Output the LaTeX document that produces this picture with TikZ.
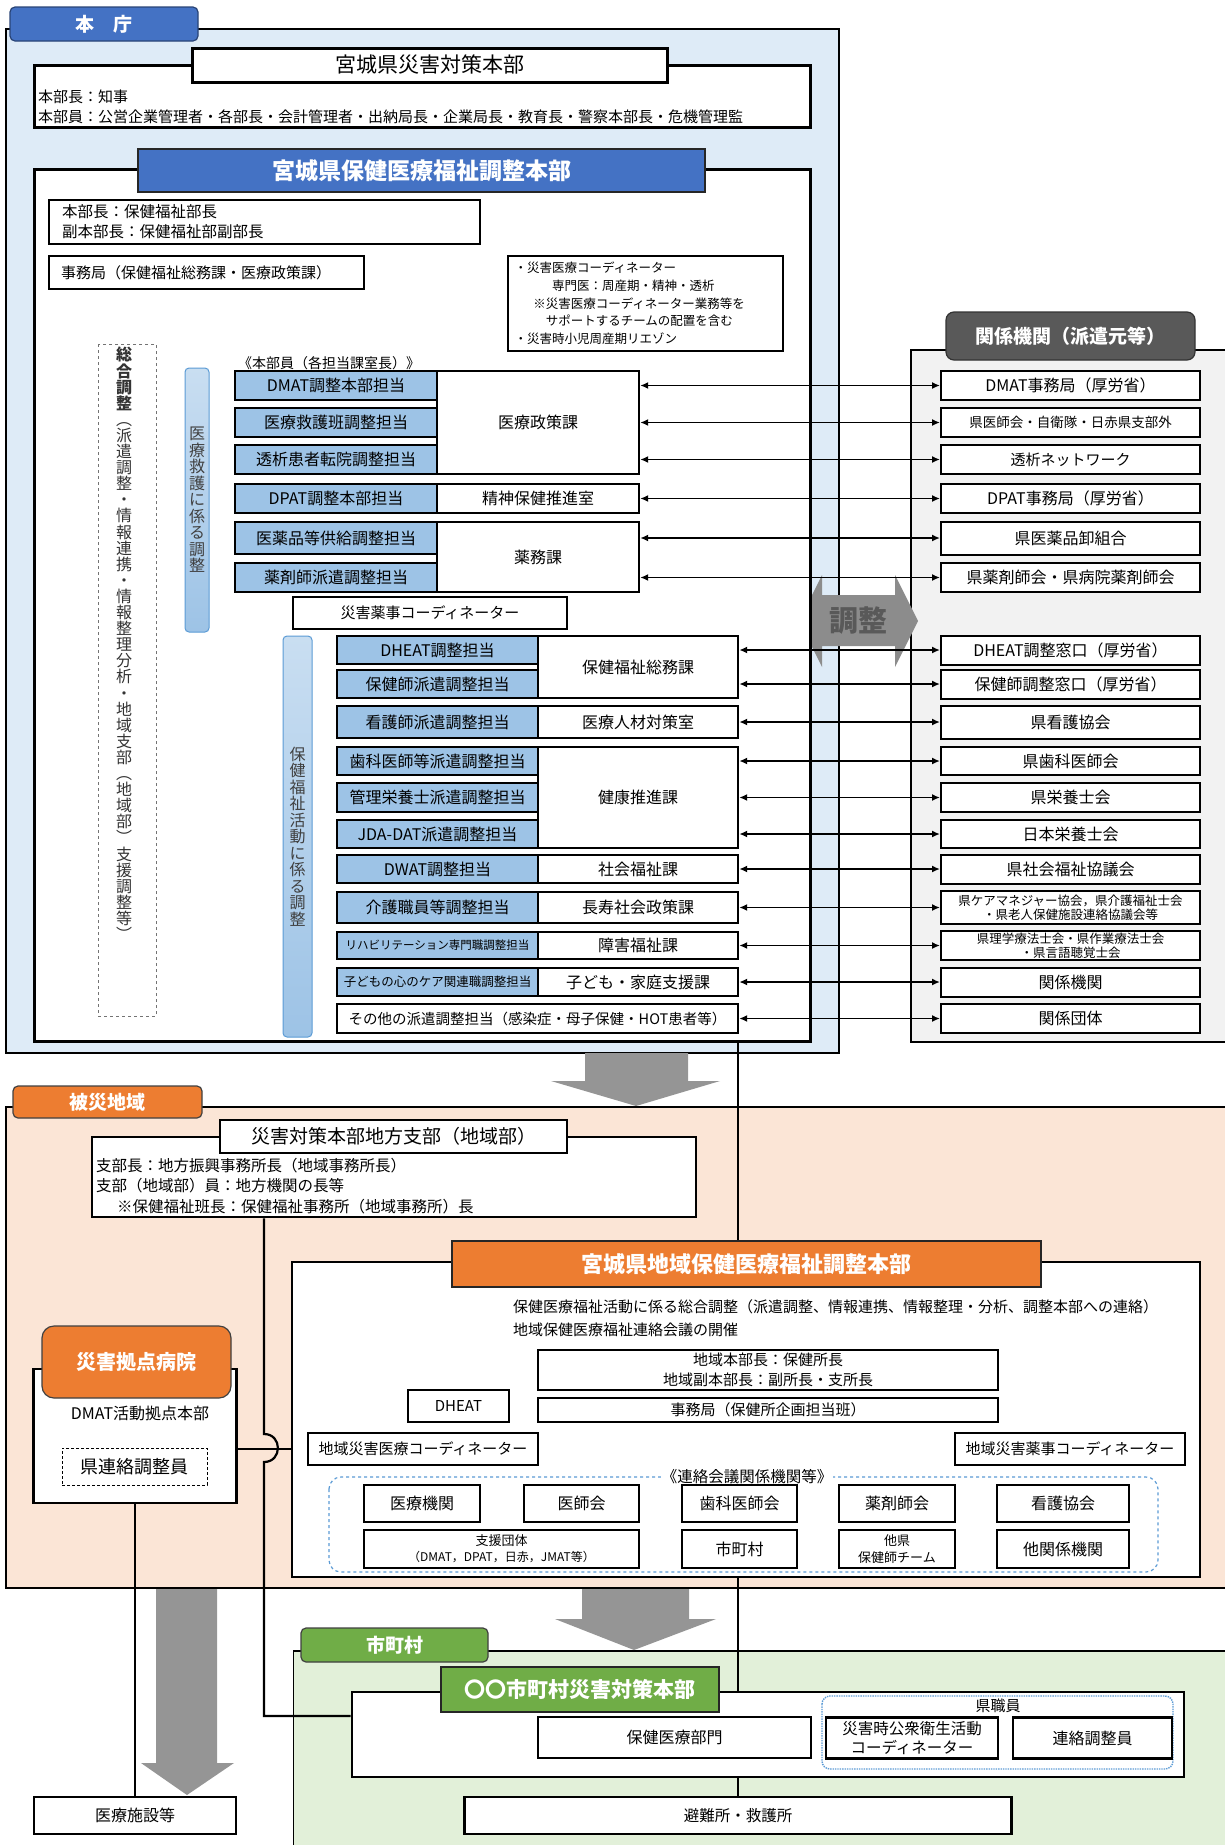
\documentclass[tikz,border=0pt]{standalone}
\usepackage{fontspec}
\setmainfont{Noto Sans CJK JP}
\usetikzlibrary{arrows.meta}

\definecolor{honblue}{HTML}{DEEBF7}
\definecolor{tabblue}{HTML}{4472C4}
\definecolor{tanblue}{HTML}{9DC3E6}
\definecolor{barline}{HTML}{5B9BD5}
\definecolor{kangray}{HTML}{F2F2F2}
\definecolor{headgray}{HTML}{595959}
\definecolor{bigarrow}{HTML}{959595}
\definecolor{hisaibg}{HTML}{FBE5D6}
\definecolor{taborange}{HTML}{ED7D31}
\definecolor{shibg}{HTML}{E2F0D9}
\definecolor{tabgreen}{HTML}{70AD47}

\pgfdeclarelayer{back}
\pgfdeclarelayer{mid}
\pgfsetlayers{back,mid,main}

\newcommand\fsz[2]{\fontsize{#1}{#2}\selectfont\lineskiplimit=-100pt\relax}

\begin{document}
\begin{tikzpicture}[x=1pt, y=-1pt,
  wire/.style={line width=2.2pt},
  rel/.style={{Latex[length=8pt,width=7pt]}-{Latex[length=8pt,width=7pt]}, line width=1.8pt},
  box/.style={draw, line width=2.2pt, fill=white, inner sep=0pt, align=center, font=\fsz{16}{18}},
  tanto/.style={box, fill=tanblue, line width=1.8pt, minimum width=202pt},
  tantob/.style={tanto, minimum width=201pt},
  ka/.style={box, line width=2.4pt, minimum width=202pt},
  kab/.style={ka, minimum width=200pt},
  kikan/.style={box, line width=2pt, minimum width=259pt, minimum height=29pt},
  gbox/.style={box, minimum height=37pt},
  txt/.style={anchor=west, inner sep=0pt, font=\fsz{15}{18}},
  tabnode/.style={draw=black!75, line width=1.2pt, rounded corners=5pt, inner sep=0pt, text=white, font=\bfseries\fsz{19}{19}},
  ttlbox/.style={draw=black!85, line width=2.5pt, inner sep=0pt, text=white, font=\bfseries\fsz{22}{22}},
  tatebar/.style={draw=barline, line width=1pt, rounded corners=4pt, top color=tanblue!55!white, bottom color=tanblue, inner sep=0pt, align=center, text=black!75, font=\fsz{16}{16.5}}
]
\useasboundingbox (0,0) rectangle (1225,1845);

\begin{pgfonlayer}{back}
  \draw[line width=1.8pt, fill=honblue] (6,29) rectangle (839,1053);
  \draw[line width=2.5pt, fill=kangray] (911,350) rectangle (1240,1042);
  \draw[line width=2pt, fill=hisaibg] (6,1107) rectangle (1240,1588);
  \fill[shibg] (293,1651) rectangle (1240,1860);
  \draw[line width=2.2pt] (293,1651) -- (1240,1651);
  \draw[line width=1pt] (293,1651) -- (293,1860);
  \fill[bigarrow] (585,1053) -- (688,1053) -- (688,1081) -- (720,1081) -- (636,1106) -- (551,1081) -- (585,1081) -- cycle;
  \fill[bigarrow] (582,1589) -- (689,1589) -- (689,1619) -- (716,1619) -- (634,1650) -- (555,1619) -- (582,1619) -- cycle;
  \fill[bigarrow] (156,1589) -- (217,1589) -- (217,1763) -- (234,1763) -- (187,1795) -- (141,1763) -- (156,1763) -- cycle;
  \fill[black!45] (799,621) -- (822,575) -- (822,595) -- (895,595) -- (895,575) -- (918,621) -- (895,667) -- (895,646) -- (822,646) -- (822,667) -- cycle;
  \node[font=\bfseries\fsz{29}{29}, text=headgray] (chosei) at (858.5,621) {調整};
\end{pgfonlayer}

% honcho
\node[tabnode, fill=tabblue, draw=tabblue!60!black, minimum width=188pt, minimum height=34pt] (honcho) at (104,24) {本　庁};
\node[box, line width=3pt, minimum width=776pt, minimum height=62pt] (honbu) at (422,96) {};
\node[box, line width=3pt, minimum width=475pt, minimum height=34pt, font=\fsz{21}{21}] (honbut) at (429.5,65) {宮城県災害対策本部};
\node[txt] (honbu1) at (38,97) {本部長：知事};
\node[txt] (honbu2) at (38,117) {本部員：公営企業管理者・各部長・会計管理者・出納局長・企業局長・教育長・警察本部長・危機管理監};

\node[box, line width=3pt, minimum width=776pt, minimum height=872pt] (bigbox) at (422,605) {};
\node[ttlbox, fill=tabblue, minimum width=567pt, minimum height=43pt, font=\bfseries\fsz{23}{23}] (bigboxt) at (421.5,170.5) {宮城県保健医療福祉調整本部};
\node[box, line width=2pt, minimum width=431pt, minimum height=44pt] (buchou) at (264.5,222) {};
\node[txt, font=\fsz{15.5}{18}] (buchou1) at (62,212) {本部長：保健福祉部長};
\node[txt, font=\fsz{15.5}{18}] (buchou2) at (62,232) {副本部長：保健福祉部副部長};
\node[box, line width=2pt, minimum width=315pt, minimum height=33pt, text width=291pt, align=left, font=\fsz{15}{15}] (jimu) at (206.5,272.5) {事務局（保健福祉総務課・医療政策課）};
\node[box, line width=2pt, minimum width=275pt, minimum height=95pt, text width=262pt, align=left, font=\fsz{12.5}{17.7}] (coord) at (645.5,303.5) {・災害医療コーディネーター\\\hspace*{3em}専門医：周産期・精神・透析\\\hspace*{1.5em}※災害医療コーディネーター業務等を\\\hspace*{2.5em}サポートするチームの配置を含む\\・災害時小児周産期リエゾン};

\draw[dashed, black!55, line width=1pt] (98,344) rectangle (156,1016);
\node[anchor=north, inner sep=0pt, align=center, text=black!80, font=\fsz{16}{16.1}] (sogo) at (124,347) {\textbf{総}\\\textbf{合}\\\textbf{調}\\\textbf{整}\\︵\\派\\遣\\調\\整\\・\\情\\報\\連\\携\\・\\情\\報\\整\\理\\分\\析\\・\\地\\域\\支\\部\\︵\\地\\域\\部\\︶\\支\\援\\調\\整\\等\\︶};

\node[txt, font=\fsz{14}{14}] (buin) at (238,363) {《本部員（各担当課室長）》};

% iryo kyugo
\node[ka, minimum height=103pt] (iryoseisaku) at (538,422.5) {医療政策課};
\node[ka, minimum height=29pt] (seishin) at (538,498.5) {精神保健推進室};
\node[ka, minimum height=70pt] (yakumu) at (538,557) {薬務課};
\node[tanto, minimum height=29pt] (dmat) at (336,385.5) {DMAT調整本部担当};
\node[tanto, minimum height=29pt] (kyugo) at (336,422.5) {医療救護班調整担当};
\node[tanto, minimum height=29pt] (toseki) at (336,459.5) {透析患者転院調整担当};
\node[tanto, minimum height=29pt] (dpat) at (336,498.5) {DPAT調整本部担当};
\node[tanto, minimum height=32pt] (iyaku) at (336,538) {医薬品等供給調整担当};
\node[tanto, minimum height=29pt] (yakuzai) at (336,577.5) {薬剤師派遣調整担当};
\node[box, line width=2pt, minimum width=274pt, minimum height=32pt, font=\fsz{15}{15}] (yakujico) at (430,613) {災害薬事コーディネーター};
\node[tatebar, minimum width=24pt, minimum height=264pt] (medbar) at (197,500) {医\\療\\救\\護\\に\\係\\る\\調\\整};

% hoken fukushi
\node[kab, minimum height=62pt] (somu) at (638,667) {保健福祉総務課};
\node[kab, minimum height=32pt] (jinzai) at (638,722) {医療人材対策室};
\node[kab, minimum height=101pt] (kenko) at (638,797.5) {健康推進課};
\node[kab, minimum height=28pt] (shakai) at (638,869) {社会福祉課};
\node[kab, minimum height=31pt] (choju) at (638,907.5) {長寿社会政策課};
\node[kab, minimum height=27pt] (shogai) at (638,945.5) {障害福祉課};
\node[kab, minimum height=28pt] (kodomoka) at (638,982) {子ども・家庭支援課};
\node[tantob, minimum height=28pt] (dheat) at (437.5,650) {DHEAT調整担当};
\node[tantob, minimum height=28pt] (hokenshi) at (437.5,684) {保健師派遣調整担当};
\node[tantob, minimum height=32pt] (kangoshi) at (437.5,722) {看護師派遣調整担当};
\node[tantob, minimum height=28pt] (shika) at (437.5,761) {歯科医師等派遣調整担当};
\node[tantob, minimum height=29pt] (eiyo) at (437.5,797.5) {管理栄養士派遣調整担当};
\node[tantob, minimum height=28pt] (jda) at (437.5,834) {JDA-DAT派遣調整担当};
\node[tantob, minimum height=28pt] (dwat) at (437.5,869) {DWAT調整担当};
\node[tantob, minimum height=31pt] (kaigo) at (437.5,907.5) {介護職員等調整担当};
\node[tantob, minimum height=27pt, font=\fsz{11.5}{11.5}] (reha) at (437.5,945.5) {リハビリテーション専門職調整担当};
\node[tantob, minimum height=28pt, font=\fsz{12.5}{12.5}] (kodomo) at (437.5,982) {子どもの心のケア関連職調整担当};
\node[ka, minimum width=401pt, minimum height=29pt, font=\fsz{14.5}{14.5}] (sonota) at (537.5,1018.5) {その他の派遣調整担当（感染症・母子保健・HOT患者等）};
\node[tatebar, minimum width=29pt, minimum height=401pt] (hokbar) at (297.5,836.5) {保\\健\\福\\祉\\活\\動\\に\\係\\る\\調\\整};

% kankei kikan
\node[tabnode, fill=headgray, draw=black!80, rounded corners=8pt, minimum width=249pt, minimum height=48pt] (kanhead) at (1070.5,336) {関係機関（派遣元等）};
\node[kikan] (r1) at (1070.5,385.5) {DMAT事務局（厚労省）};
\node[kikan, font=\fsz{13.5}{13.5}] (r2) at (1070.5,422.5) {県医師会・自衛隊・日赤県支部外};
\node[kikan, font=\fsz{15}{15}] (r3) at (1070.5,459.5) {透析ネットワーク};
\node[kikan] (r4) at (1070.5,498.5) {DPAT事務局（厚労省）};
\node[kikan, minimum height=33pt] (r5) at (1070.5,538) {県医薬品卸組合};
\node[kikan] (r6) at (1070.5,577.5) {県薬剤師会・県病院薬剤師会};
\node[kikan] (r7) at (1070.5,650) {DHEAT調整窓口（厚労省）};
\node[kikan] (r8) at (1070.5,684) {保健師調整窓口（厚労省）};
\node[kikan, minimum height=33pt] (r9) at (1070.5,722) {県看護協会};
\node[kikan, minimum height=28pt] (r10) at (1070.5,761) {県歯科医師会};
\node[kikan] (r11) at (1070.5,797.5) {県栄養士会};
\node[kikan, minimum height=28pt] (r12) at (1070.5,834) {日本栄養士会};
\node[kikan] (r13) at (1070.5,869) {県社会福祉協議会};
\node[kikan, minimum height=33pt, font=\fsz{12.5}{14}] (r14) at (1070.5,907.5) {県ケアマネジャー協会，県介護福祉士会\\・県老人保健施設連絡協議会等};
\node[kikan, font=\fsz{12.5}{14}] (r15) at (1070.5,945.5) {県理学療法士会・県作業療法士会\\・県言語聴覚士会};
\node[kikan] (r16) at (1070.5,982) {関係機関};
\node[kikan] (r17) at (1070.5,1018.5) {関係団体};

% hisai chiiki
\node[tabnode, fill=taborange, minimum width=189pt, minimum height=32pt] (hisai) at (107.5,1102) {被災地域};
\node[box, line width=2.6pt, minimum width=604pt, minimum height=80pt] (shibu) at (394,1177) {};
\node[box, line width=2.8pt, minimum width=347pt, minimum height=33pt, font=\fsz{19}{19}] (shibut) at (393.5,1136.5) {災害対策本部地方支部（地域部）};
\node[txt, font=\fsz{15.5}{18}] (shibu1) at (96,1166) {支部長：地方振興事務所長（地域事務所長）};
\node[txt, font=\fsz{15.5}{18}] (shibu2) at (96,1186) {支部（地域部）員：地方機関の長等};
\node[txt, font=\fsz{15.5}{18}] (shibu3) at (117,1207) {※保健福祉班長：保健福祉事務所（地域事務所）長};

\node[box, line width=2.6pt, minimum width=908pt, minimum height=315pt] (chiiki) at (746,1419.5) {};
\node[ttlbox, fill=taborange, minimum width=589pt, minimum height=46pt] (chiikit) at (746.5,1264) {宮城県地域保健医療福祉調整本部};
\node[txt] (katsudo) at (513,1307) {保健医療福祉活動に係る総合調整（派遣調整、情報連携、情報整理・分析、調整本部への連絡）};
\node[txt] (kaigi) at (513,1330) {地域保健医療福祉連絡会議の開催};
\node[box, line width=2pt, minimum width=460pt, minimum height=40pt, font=\fsz{15}{20}] (chiikicho) at (768,1370) {地域本部長：保健所長\\地域副本部長：副所長・支所長};
\node[box, line width=2pt, minimum width=460pt, minimum height=24pt, font=\fsz{15}{15}] (chiikijim) at (768,1410) {事務局（保健所企画担当班）};
\node[box, line width=2pt, minimum width=101pt, minimum height=32pt, font=\fsz{15}{15}] (cdheat) at (458.5,1406) {DHEAT};
\node[box, line width=2pt, minimum width=230pt, minimum height=32pt, font=\fsz{15}{15}] (iryoco) at (423,1449) {地域災害医療コーディネーター};
\node[box, line width=2pt, minimum width=230pt, minimum height=32pt, font=\fsz{15}{15}] (yakuco) at (1070,1449) {地域災害薬事コーディネーター};
\draw[barline, dashed, line width=1.2pt, rounded corners=12pt] (329,1477) rectangle (1158,1572);
\node[fill=white, inner sep=1pt, font=\fsz{15.5}{15.5}] (renraku) at (747,1477) {《連絡会議関係機関等》};
\node[gbox, minimum width=116pt] (iryokikan) at (422,1503.5) {医療機関};
\node[gbox, minimum width=115pt] (ishikai) at (581.5,1503.5) {医師会};
\node[gbox, minimum width=115pt] (shikaishikai) at (739.5,1503.5) {歯科医師会};
\node[gbox, minimum width=116pt] (yakuzaishikai) at (897,1503.5) {薬剤師会};
\node[gbox, minimum width=132pt] (kangokyokai) at (1063,1503.5) {看護協会};
\node[gbox, minimum width=275pt, minimum height=38pt, font=\fsz{13}{16}] (shien) at (501.5,1549) {支援団体\\{\fsz{12}{14}（DMAT，DPAT，日赤，JMAT等）}};
\node[gbox, minimum width=115pt, minimum height=38pt] (shichoson) at (739.5,1549) {市町村};
\node[gbox, minimum width=116pt, minimum height=38pt, font=\fsz{13}{17}] (taken) at (897,1549) {他県\\保健師チーム};
\node[gbox, minimum width=132pt, minimum height=38pt] (takankei) at (1063,1549) {他関係機関};

\node[box, line width=2.6pt, minimum width=203pt, minimum height=134pt] (hosp) at (135,1436) {};
\node[tabnode, fill=taborange, rounded corners=12pt, minimum width=189pt, minimum height=72pt, font=\bfseries\fsz{20}{20}] (hospt) at (136.5,1362) {災害拠点病院};
\node[font=\fsz{16}{16}, inner sep=0pt] (dmatk) at (140,1413) {DMAT活動拠点本部};
\node[draw, densely dashed, line width=1pt, inner sep=0pt, minimum width=145pt, minimum height=37pt, font=\fsz{18}{18}] (kenren) at (134.5,1466.5) {県連絡調整員};

% shichoson
\node[tabnode, fill=tabgreen, minimum width=187pt, minimum height=34pt] (shi) at (394.5,1645) {市町村};
\node[box, line width=2.6pt, minimum width=832pt, minimum height=85pt] (shibox) at (768,1734.5) {};
\node[ttlbox, fill=tabgreen, minimum width=278pt, minimum height=45pt, font=\bfseries\fsz{21}{21}] (shit) at (580,1689.5) {〇〇市町村災害対策本部};
\node[box, minimum width=273pt, minimum height=41pt] (hokeniryo) at (674.5,1737.5) {保健医療部門};
\draw[barline, densely dotted, line width=1.4pt, rounded corners=8pt] (822,1696) rectangle (1173,1769);
\node[inner sep=0pt, font=\fsz{15}{15}] (kenshoku) at (998,1706) {県職員};
\node[box, minimum width=172pt, minimum height=41pt, font=\fsz{15.5}{19}] (koshu) at (912,1738) {災害時公衆衛生活動\\コーディネーター};
\node[box, minimum width=159pt, minimum height=41pt] (renchosei) at (1092.5,1738) {連絡調整員};
\node[box, minimum width=547pt, minimum height=37pt, font=\fsz{15.5}{15.5}] (hinan) at (738,1815.5) {避難所・救護所};
\node[box, minimum width=202pt, minimum height=37pt] (shisetsu) at (135,1815.5) {医療施設等};

% wires
\coordinate (tr) at (149,0);
\coordinate (bus) at (178,0);
\coordinate (cy) at (0,315);
\coordinate (sx) at (264,0);
\coordinate (sy) at (0,1716);
\begin{pgfonlayer}{mid}
  \draw[wire] (buchou.south -| tr) -- (tr |- dheat.west) -- (dheat.west);
  \draw[wire] (tr |- cy) -- (coord.west |- cy);
  \draw[wire] (bus |- dmat) -- (bus |- sonota);
  \foreach \n in {dmat,kyugo,toseki,dpat,iyaku,yakuzai,dheat,hokenshi,kangoshi,shika,eiyo,jda,dwat,kaigo,reha,kodomo,sonota}
    \draw[wire] (bus |- \n.west) -- (\n.west);
  \draw[wire] (222,538) -- (222,565) to[out=180,in=180,looseness=1.7] (222,589) -- (222,613) -- (yakujico.west);
  \draw[wire] (229,577.5) -- (229,613);
  \draw[wire, line width=2.6pt] (hinan.north |- bigbox.south) -- (hinan.north);
  \draw[wire] (shibu.south -| sx) -- (264,1434) to[out=0,in=0,looseness=1.7] (264,1462) -- (sx |- sy) -- (shibox.west |- sy);
  \draw[wire] (hosp.east |- iryoco) -- (iryoco.west);
  \draw[wire, line width=2.6pt] (hosp.south) -- (shisetsu.north);
  \draw[line width=1.2pt] (chiikicho) -- (chiikijim);
\end{pgfonlayer}

\foreach \a/\b in {iryoseisaku/r1,iryoseisaku/r2,iryoseisaku/r3,seishin/r4,yakumu/r5,yakumu/r6,somu/r7,somu/r8,jinzai/r9,kenko/r10,kenko/r11,kenko/r12,shakai/r13,choju/r14,shogai/r15,kodomoka/r16,sonota/r17}
  \draw[rel] (\a.east |- \b) -- (\b.west);
\end{tikzpicture}
\end{document}
